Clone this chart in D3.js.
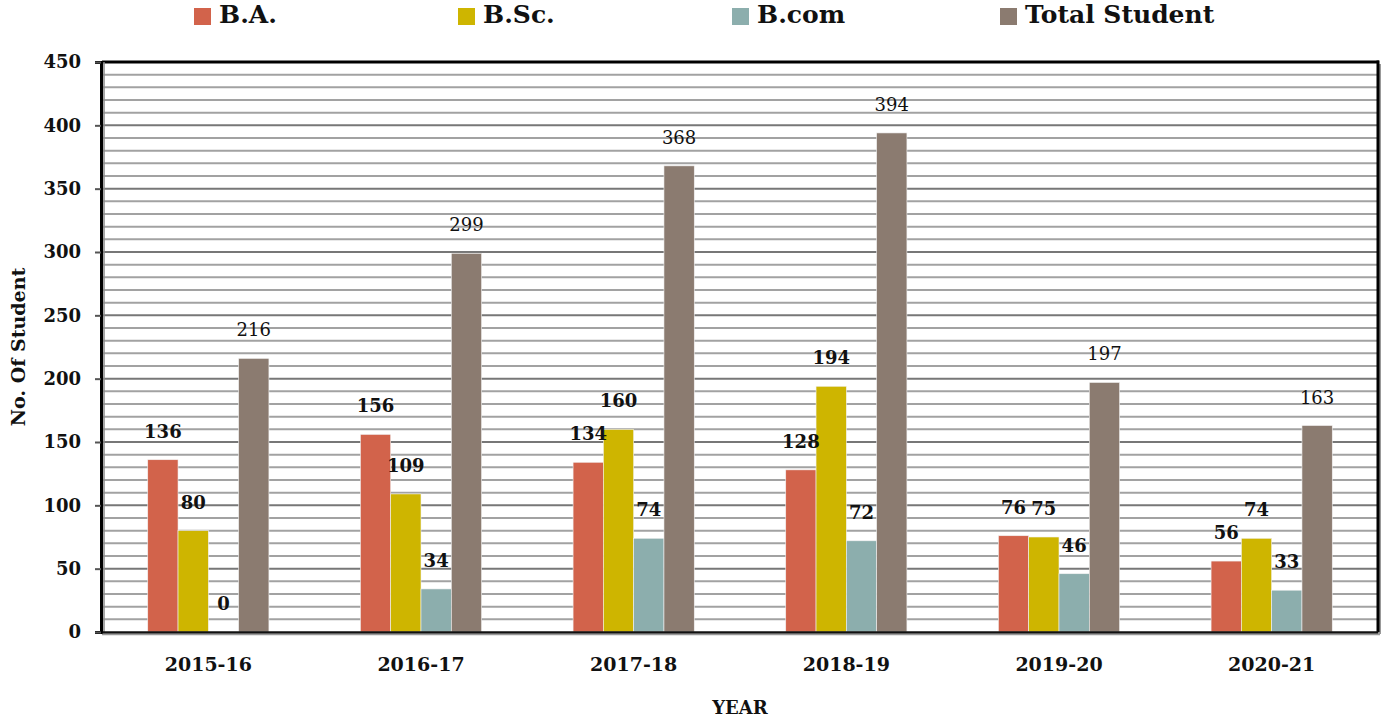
<!DOCTYPE html>
<html lang="en">
<head>
<meta charset="UTF-8">
<title>No. Of Student by Year</title>
<script src="https://d3js.org/d3.v7.min.js"></script>
<style>
  body { margin: 0; background: #fff; }
  svg { display: block; font-family: "DejaVu Serif", "Liberation Serif", serif; }
</style>
</head>
<body>
<svg width="1396" height="721"></svg>
<script>
    const years = ["2015-16", "2016-17", "2017-18", "2018-19", "2019-20", "2020-21"];
    const series = ["B.A.", "B.Sc.", "B.com", "Total Student"];
    const ba = [136, 156, 134, 128, 76, 56];
    const bsc = [80, 109, 160, 194, 75, 74];
    const bcom = [0, 34, 74, 72, 46, 33];
    const total = [216, 299, 368, 394, 197, 163];
    const colors = ["#d2634b", "#ceb500", "#8caead", "#8b7b70"];

    const values = [ba, bsc, bcom, total];
    const rows = [];
    years.forEach((yr, i) => {
        series.forEach((s, j) => rows.push({ year: yr, series: s, value: values[j][i], idx: j }));
    });

    const fontFam = "DejaVu Serif, Liberation Serif, serif";
    const svg = d3.select("svg");
    const plotLeft = 102, plotRight = 1378, plotTop = 62, plotBottom = 632;

    const x0 = d3.scaleBand().domain(years).range([plotLeft, plotRight]).padding(0);
    const x1 = d3.scaleBand().domain(series).range([0, x0.bandwidth()]).paddingInner(0).paddingOuter(1.51);
    const y = d3.scaleLinear().domain([0, 450]).range([plotBottom, plotTop]);

    // gridlines every 10
    const grid = d3.range(10, 451, 10);
    svg.append("g").selectAll("line")
        .data(grid)
        .enter()
        .append("line")
        .attr("x1", plotLeft)
        .attr("x2", plotRight)
        .attr("y1", d => y(d))
        .attr("y2", d => y(d))
        .attr("stroke", d => d % 50 === 0 ? "#777" : "#a2a2a2")
        .attr("stroke-width", 2);

    // bars
    svg.append("g").selectAll("rect")
        .data(rows)
        .enter()
        .append("rect")
        .attr("x", d => x0(d.year) + x1(d.series))
        .attr("y", d => y(d.value))
        .attr("width", x1.bandwidth())
        .attr("height", d => plotBottom - y(d.value))
        .attr("fill", d => colors[d.idx])
        .attr("stroke", "#f2f2f2")
        .attr("stroke-width", 0.6);

    // value labels
    svg.append("g").selectAll("text")
        .data(rows)
        .enter()
        .append("text")
        .attr("x", d => x0(d.year) + x1(d.series) + x1.bandwidth() / 2)
        .attr("y", d => y(d.value) - 22)
        .attr("text-anchor", "middle")
        .attr("font-size", 18)
        .attr("font-weight", d => d.idx === 3 ? "normal" : "bold")
        .attr("fill", "#111")
        .text(d => d.value);

    // frame
    svg.append("line").attr("x1", plotLeft).attr("x2", plotRight + 1).attr("y1", plotTop).attr("y2", plotTop)
        .attr("stroke", "#000").attr("stroke-width", 3);
    svg.append("line").attr("x1", plotRight + 2).attr("x2", plotRight + 2).attr("y1", plotTop + 2).attr("y2", plotBottom + 2)
        .attr("stroke", "#999").attr("stroke-width", 2);
    svg.append("line").attr("x1", plotRight).attr("x2", plotRight).attr("y1", plotTop - 1.5).attr("y2", plotBottom)
        .attr("stroke", "#000").attr("stroke-width", 3);

    // y axis
    const yAxis = svg.append("g")
        .attr("transform", `translate(${plotLeft - 1},0)`)
        .call(d3.axisLeft(y).tickValues(d3.range(0, 451, 50)).tickSize(6).tickPadding(14));
    yAxis.select(".domain").attr("stroke", "#000").attr("stroke-width", 3);
    yAxis.selectAll(".tick line").attr("stroke", "#555").attr("stroke-width", 2);
    yAxis.selectAll("text").attr("font-size", 18).attr("font-weight", "bold").attr("fill", "#111")
        .attr("font-family", fontFam);
    svg.append("line").attr("x1", plotLeft + 2).attr("x2", plotLeft + 2).attr("y1", plotTop).attr("y2", plotBottom)
        .attr("stroke", "#888").attr("stroke-width", 1.5);

    // x axis
    const xAxis = svg.append("g")
        .attr("transform", `translate(0,${plotBottom})`)
        .call(d3.axisBottom(x0).tickSize(0).tickPadding(26));
    xAxis.select(".domain").attr("stroke", "#111").attr("stroke-width", 2.5);
    xAxis.selectAll("text").attr("font-size", 19).attr("font-weight", "bold").attr("fill", "#111")
        .attr("font-family", fontFam);
    svg.append("line").attr("x1", plotLeft).attr("x2", plotRight + 2).attr("y1", plotBottom + 2.5).attr("y2", plotBottom + 2.5)
        .attr("stroke", "#999").attr("stroke-width", 1.5);

    // axis titles
    svg.append("text")
        .attr("x", (plotLeft + plotRight) / 2)
        .attr("y", 714)
        .attr("text-anchor", "middle")
        .attr("font-size", 18)
        .attr("font-weight", "bold")
        .attr("fill", "#111")
        .text("YEAR");

    svg.append("text")
        .attr("transform", "translate(25,347) rotate(-90)")
        .attr("text-anchor", "middle")
        .attr("font-size", 19)
        .attr("font-weight", "bold")
        .attr("fill", "#111")
        .text("No. Of Student");

    // legend
    const legendX = [194, 458, 732, 1000];
    const legend = svg.append("g").selectAll("g")
        .data(series)
        .enter()
        .append("g")
        .attr("transform", (d, i) => `translate(${legendX[i]},8)`);
    legend.append("rect")
        .attr("width", 17)
        .attr("height", 17)
        .attr("fill", (d, i) => colors[i]);
    legend.append("text")
        .attr("x", 25)
        .attr("y", 15)
        .attr("font-size", 25)
        .attr("font-weight", "bold")
        .attr("fill", "#111")
        .text(d => d);
</script>
</body>
</html>
